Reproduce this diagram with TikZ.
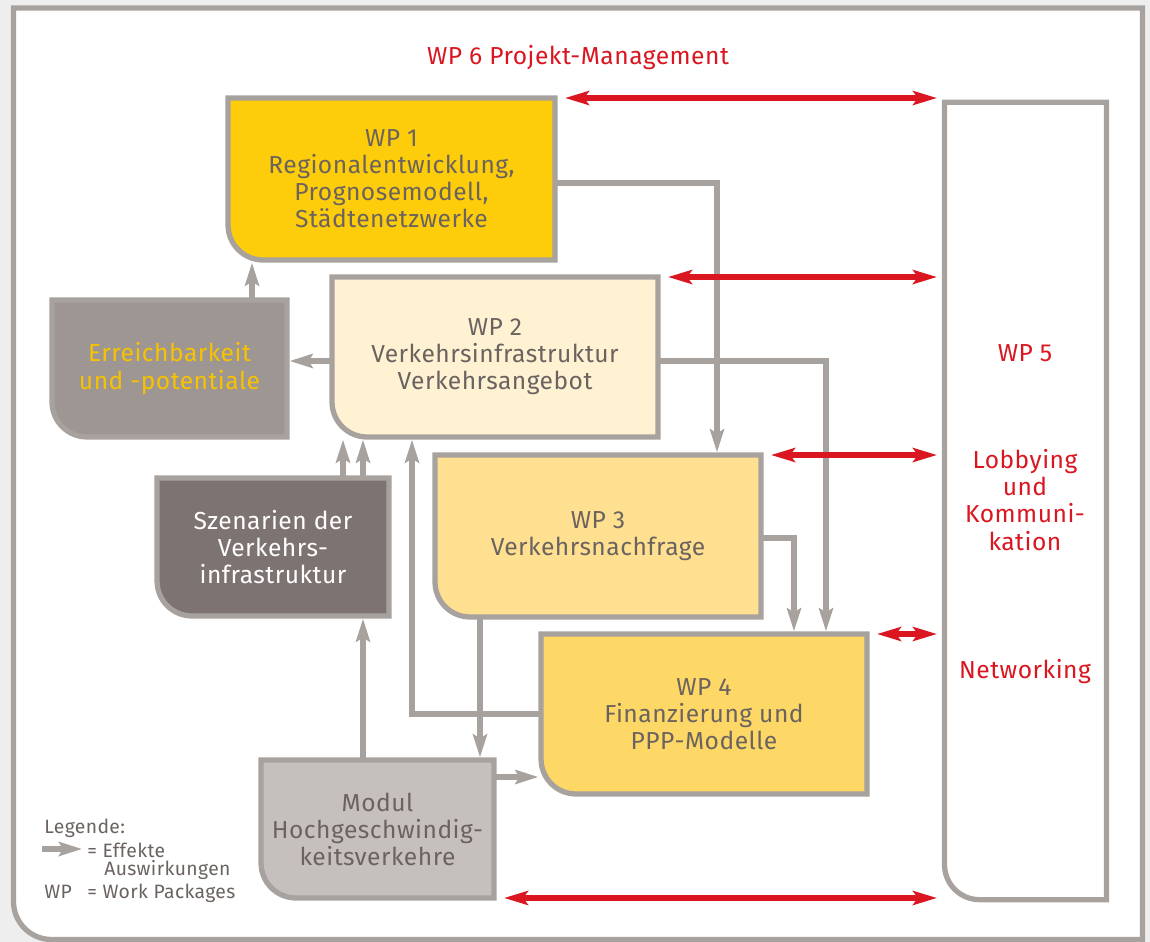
\documentclass[tikz,border=0pt]{standalone}
\usepackage{fontspec}
\setmainfont{Fira Sans}[LetterSpace=2]
\usetikzlibrary{arrows.meta}
\definecolor{paper}{HTML}{EEEEEE}
\definecolor{rim}{HTML}{A8A29E}
\definecolor{ink}{HTML}{6B6360}
\definecolor{wpred}{HTML}{DA1620}
\definecolor{wpone}{HTML}{FDCC0A}
\definecolor{wptwo}{HTML}{FEF2D3}
\definecolor{wpthree}{HTML}{FFE090}
\definecolor{wpfour}{HTML}{FDD866}
\definecolor{reach}{HTML}{9D9693}
\definecolor{scen}{HTML}{7D7472}
\definecolor{hsv}{HTML}{C5C0BE}
\definecolor{gold}{HTML}{F7C300}
\pgfdeclarelayer{back}
\pgfdeclarelayer{wires}
\pgfdeclarelayer{boxes}
\pgfsetlayers{back,wires,boxes,main}
\begin{document}
\begin{tikzpicture}[x=0.02cm, y=0.02cm,
		rimline/.style={draw=rim, line width=3pt},
		box/.style={outer sep=0pt, inner sep=0pt, align=center, text=ink,
			font=\fontsize{14}{15.4}\selectfont},
		redtext/.style={align=center, text=wpred, font=\fontsize{14}{15.4}\selectfont},
		legtext/.style={anchor=base west, inner sep=0pt, text=ink, font=\fontsize{11}{12}\selectfont},
		effekt/.style={rimline, shorten >=1.5pt,
			-{Stealth[length=0.46cm, width=0.28cm, inset=0.08cm]}},
		link/.style={draw=wpred, line width=3pt, shorten <=0.2cm, shorten >=0.15cm,
			{Stealth[length=0.48cm, width=0.28cm, inset=0.1cm]}-{Stealth[length=0.48cm, width=0.28cm, inset=0.1cm]}}
		]
	\useasboundingbox (0,0) rectangle (1150,-942);
	\node[box, minimum width=6.54cm, minimum height=3.24cm] (wp1) at (391.5,-179)
		{WP 1\\Regionalentwicklung,\\Prognosemodell,\\Städtenetzwerke};
	\node[box, minimum width=6.52cm, minimum height=3.2cm] (wp2) at (495,-357)
		{WP 2\\Verkehrsinfrastruktur\\Verkehrsangebot};
	\node[box, text=gold, minimum width=4.7cm, minimum height=2.74cm] (erreich) at (169.5,-368.5)
		{Erreichbarkeit\\und -potentiale};
	\node[box, text=white, minimum width=4.64cm, minimum height=2.76cm] (szen) at (273,-547)
		{Szenarien der\\Verkehrs-\\infrastruktur};
	\node[box, minimum width=6.52cm, minimum height=3.24cm] (wp3) at (598,-536)
		{WP 3\\Verkehrsnachfrage};
	\node[box, minimum width=6.52cm, minimum height=3.2cm] (wp4) at (704,-714)
		{WP 4\\Finanzierung und\\PPP-Modelle};
	\node[box, minimum width=4.66cm, minimum height=2.76cm] (modul) at (377.5,-829)
		{Modul\\Hochgeschwindig-\\keitsverkehre};
	\node[box, minimum width=3.24cm, minimum height=15.95cm] (wp5) at (1025.5,-501) {};
	\node[redtext] (wp6) at (578,-58) {WP 6 Projekt-Management};
	\node[redtext] (wp5t) at (1025,-353) {WP 5};
	\node[redtext] (lobby) at (1025,-500) {Lobbying\\und\\Kommuni-\\kation};
	\node[redtext] (netw) at (1025,-672) {Networking};
	\node[legtext] (leg) at (44,-833) {Legende:};
	\node[legtext] (eff) at (87,-857) {= Effekte};
	\node[legtext] (ausw) at (104,-875) {Auswirkungen};
	\node[legtext] (wpk) at (44,-898) {WP};
	\node[legtext] (wpkt) at (87,-898) {= Work Packages};
	\coordinate (la) at (42,-849);
	\coordinate (lb) at (82,-849);
	\begin{pgfonlayer}{back}
		\fill[paper] (0,0) rectangle (1150,-942);
		\draw[rimline, fill=white] (13.5,-8) -- (1142.5,-8) -- (1142.5,-939.5) -- (51.5,-939.5)
			arc[start angle=270, end angle=180, radius=38] -- cycle;
	\end{pgfonlayer}
	\begin{pgfonlayer}{boxes}
		\foreach \n/\c in {wp1/wpone, wp2/wptwo, erreich/reach, szen/scen, wp3/wpthree, wp4/wpfour, modul/hsv, wp5/white}
			\draw[rimline, fill=\c] ([yshift=0.7cm]\n.south west) -- (\n.north west) -- (\n.north east)
				-- (\n.south east) -- ([xshift=0.7cm]\n.south west)
				arc[start angle=270, end angle=180, radius=0.7cm] -- cycle;
	\end{pgfonlayer}
	\begin{pgfonlayer}{wires}
		\draw[effekt] (wp1.east |- 0,-183) -| (717,0 |- wp3.north);
		\draw[effekt] (wp2.east |- 0,-361) -| (826,0 |- wp4.north);
		\draw[effekt] (wp3.east |- 0,-538) -| (794,0 |- wp4.north);
		\draw[effekt] (erreich.north -| 252,0) -- (252,0 |- wp1.south);
		\draw[effekt] (wp2.west |- 0,-361) -- (erreich.east |- 0,-361);
		\draw[effekt] (szen.north -| 343,0) -- (343,0 |- wp2.south);
		\draw[effekt] (szen.north -| 363,0) -- (363,0 |- wp2.south);
		\draw[effekt] (modul.north -| 363,0) -- (363,0 |- szen.south);
		\draw[effekt] (wp4.west |- 0,-714) -| (412,0 |- wp2.south);
		\draw[effekt] (wp3.south -| 480,0) -- (480,0 |- modul.north);
		\draw[effekt] (modul.east |- 0,-777) -- (wp4.west |- 0,-777);
	\end{pgfonlayer}
	\draw[effekt, shorten >=0pt] (la) -- (lb);
	\draw[link] (wp1.north east) -- (wp1.north east -| wp5.west);
	\draw[link] (wp2.north east) -- (wp2.north east -| wp5.west);
	\draw[link] (wp3.north east) -- (wp3.north east -| wp5.west);
	\draw[link] (wp4.north east) -- (wp4.north east -| wp5.west);
	\draw[link] (modul.south east) -- (modul.south east -| wp5.west);
\end{tikzpicture}
\end{document}
